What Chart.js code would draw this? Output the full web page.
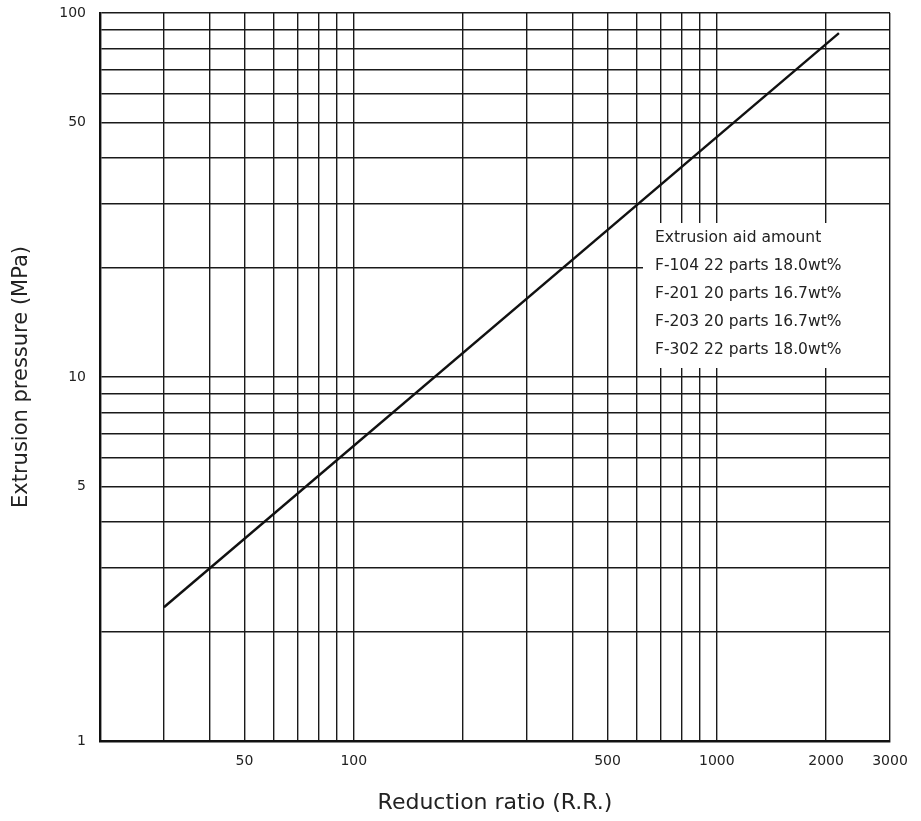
<!DOCTYPE html>
<html>
<head>
<meta charset="utf-8">
<title>Extrusion pressure vs reduction ratio</title>
<script src="https://cdn.jsdelivr.net/npm/chart.js@4.4.1/dist/chart.umd.min.js"></script>
<style>
    body { margin: 0; background: #fff; }
    #wrap { width: 921px; height: 821px; }
</style>
</head>
<body>
<div id="wrap"><canvas id="myChart" width="921" height="821"></canvas></div>
<script>
// Grid lines and labelled ticks on both log axes
const xGridValues = [20, 30, 40, 50, 60, 70, 80, 90, 100, 200, 300, 400, 500, 600, 700, 800, 900, 1000, 2000, 3000];
const xTickLabels = [50, 100, 500, 1000, 2000, 3000];
const yGridValues = [1, 2, 3, 4, 5, 6, 7, 8, 9, 10, 20, 30, 40, 50, 60, 70, 80, 90, 100];
const yTickLabels = [1, 5, 10, 50, 100];

// Measured line: reduction ratio -> extrusion pressure (MPa)
const reductionRatio = [30, 2170];
const pressure = [2.33, 88];

const noteLines = [
    'Extrusion aid amount',
    'F-104 22 parts 18.0wt%',
    'F-201 20 parts 16.7wt%',
    'F-203 20 parts 16.7wt%',
    'F-302 22 parts 18.0wt%'
];

const ink = '#1a1a1a';
const fontFamily = '"DejaVu Sans", "Liberation Sans", sans-serif';

// White panel with the note text, painted over the grid
const notePanel = {
    id: 'notePanel',
    beforeDatasetsDraw(chart) {
        const { ctx, chartArea } = chart;
        const left = 643, top = 223, bottom = 368;
        const right = chartArea.right - 1;
        ctx.save();
        ctx.fillStyle = '#fff';
        ctx.fillRect(left, top, right - left, bottom - top);
        ctx.fillStyle = '#222';
        ctx.font = '15.5px ' + fontFamily;
        ctx.textBaseline = 'middle';
        noteLines.forEach((line, i) => {
            ctx.fillText(line, 655, 238 + i * 28);
        });
        ctx.restore();
    }
};

function logAxis(gridValues, labels, min, max, title) {
    return {
        type: 'logarithmic',
        min: min,
        max: max,
        afterBuildTicks: scale => {
            scale.ticks = gridValues.map(v => ({ value: v }));
        },
        ticks: {
            autoSkip: false,
            maxRotation: 0,
            color: '#222',
            font: { family: fontFamily, size: 14 },
            callback: value => labels.includes(value) ? String(value) : ''
        },
        grid: { color: ink, lineWidth: 1.4, drawTicks: false },
        border: { display: true, color: '#111', width: 2.4 },
        title: {
            display: true,
            text: title,
            color: '#222',
            font: { family: fontFamily, size: 21 }
        }
    };
}

const xAxis = logAxis(xGridValues, xTickLabels, 20, 3000, 'Reduction ratio (R.R.)');
xAxis.ticks.padding = 12;
xAxis.title.font.size = 22;
xAxis.title.padding = { top: 0, bottom: 5 };
xAxis.afterFit = scale => {
    scale.height = 80;
    scale.paddingRight = 0;
};

const yAxis = logAxis(yGridValues, yTickLabels, 1, 100, 'Extrusion pressure (MPa)');
yAxis.ticks.padding = 14;
yAxis.title.padding = { top: 9, bottom: 0 };
yAxis.afterFit = scale => {
    scale.width = 100;
    scale.paddingTop = 0;
    scale.paddingBottom = 0;
};

const ctx = document.getElementById('myChart').getContext('2d');
const myChart = new Chart(ctx, {
    type: 'line',
    data: {
        datasets: [{
            data: reductionRatio.map((r, i) => ({ x: r, y: pressure[i] })),
            borderColor: '#111',
            borderWidth: 2.4,
            pointRadius: 0,
            fill: false
        }]
    },
    options: {
        responsive: false,
        animation: false,
        layout: { padding: { top: 13, right: 31, left: 0, bottom: 0 } },
        plugins: {
            legend: { display: false },
            tooltip: { enabled: false }
        },
        scales: { x: xAxis, y: yAxis }
    },
    plugins: [notePanel]
});
</script>
</body>
</html>
